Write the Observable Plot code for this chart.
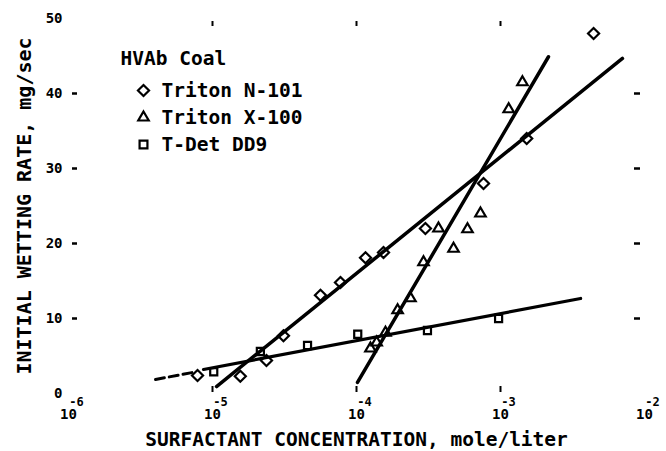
<!DOCTYPE html>
<html>
<head>
<meta charset="utf-8">
<script src="https://cdn.jsdelivr.net/npm/d3@7"></script>
<script src="https://cdn.jsdelivr.net/npm/@observablehq/plot@0.6"></script>
<style>
  html, body { margin: 0; padding: 0; background: #fff; }
</style>
</head>
<body>
<div id="chart"></div>
<script>
// ---- data ----
const xTicks = [1e-6, 1e-5, 1e-4, 1e-3, 1e-2];
const xTickExp = ["-6", "-5", "-4", "-3", "-2"];
const xMinorTicks = [1e-5, 1e-4, 1e-3];
const yTicks = [0, 10, 20, 30, 40, 50];
const yDashTicks = [10, 20, 30, 40];

const xTitle = "SURFACTANT CONCENTRATION, mole/liter";
const yTitle = "INITIAL WETTING RATE, mg/sec";
const legendTitle = "HVAb Coal";
const seriesNames = ["Triton N-101", "Triton X-100", "T-Det DD9"];
const seriesSymbols = ["diamond2", "triangle2", "square2"];

// Triton N-101 (diamonds)
const n101Conc = [7.87e-6, 1.56e-5, 2.37e-5, 3.11e-5, 5.62e-5, 7.74e-5, 1.155e-4, 1.54e-4, 3.01e-4, 7.62e-4, 1.52e-3, 4.43e-3];
const n101Rate = [2.4, 2.3, 4.4, 7.7, 13.1, 14.8, 18.1, 18.8, 22.0, 28.0, 34.0, 48.0];
// Triton X-100 (triangles)
const x100Conc = [1.25e-4, 1.38e-4, 1.59e-4, 1.93e-4, 2.37e-4, 2.92e-4, 3.71e-4, 4.72e-4, 5.9e-4, 7.26e-4, 1.14e-3, 1.42e-3];
const x100Rate = [6.0, 6.8, 8.1, 11.1, 12.7, 17.5, 22.0, 19.3, 21.9, 24.0, 37.9, 41.5];
// T-Det (squares)
const tdetConc = [1.02e-5, 2.15e-5, 4.57e-5, 1.02e-4, 3.11e-4, 9.7e-4];
const tdetRate = [2.9, 5.6, 6.4, 7.9, 8.4, 10.0];

// fitted lines (end points)
const n101FitConc = [1.066e-5, 7.03e-3];
const n101FitRate = [0.93, 44.67];
const x100FitConc = [1.016e-4, 2.154e-3];
const x100FitRate = [1.47, 44.9];
const tdetFitConc = [8.66e-6, 3.6e-3];
const tdetFitRate = [3.2, 12.67];
const tdetExtConc = [4.02e-6, 7.26e-6];
const tdetExtRate = [1.87, 2.8];

// ---- build ----
const rows = (xs, ys) => xs.map((x, i) => ({x, y: ys[i]}));
const FONT = "'DejaVu Sans Mono', 'Liberation Mono', monospace";

const legendMarks = [];
seriesNames.forEach((name, i) => {
  legendMarks.push(Plot.dot([0], {frameAnchor: "top-left", dx: 75, dy: 72 + 27 * i,
    symbol: seriesSymbols[i], r: 5, stroke: "black", strokeWidth: 2.2, fill: "none"}));
  legendMarks.push(Plot.text([name], {frameAnchor: "top-left", dx: 93, dy: 72 + 27 * i,
    text: d => d, textAnchor: "start", lineAnchor: "middle", fontSize: 19.5, fill: "black"}));
});

const chart = Plot.plot({
  width: 666,
  height: 451,
  marginLeft: 68,
  marginRight: 22,
  marginTop: 18,
  marginBottom: 58,
  style: {fontFamily: FONT, fontWeight: "bold", background: "#fff", color: "black"},
  x: {type: "log", domain: [1e-6, 1e-2]},
  y: {domain: [0, 50]},
  marks: [
    // y tick labels
    Plot.axisY(yTicks, {anchor: "left", tickSize: 0, tickPadding: 6, fontSize: 14, label: null}),
    // inner dash ticks left / right
    Plot.axisY(yDashTicks, {anchor: "left", tickSize: 5, dx: 9, strokeWidth: 2.5, tickFormat: () => "", label: null}),
    Plot.axisY(yDashTicks, {anchor: "right", tickSize: 6, dx: -11, strokeWidth: 2.5, tickFormat: () => "", label: null}),
    // x ticks top / bottom
    Plot.axisX(xMinorTicks, {anchor: "top", tickSize: 5, dy: 7, strokeWidth: 2, tickFormat: () => "", label: null}),
    Plot.axisX(xMinorTicks, {anchor: "bottom", tickSize: 6, dy: -7, strokeWidth: 2, tickFormat: () => "", label: null}),
    // x tick labels 10^n
    Plot.axisX(xTicks, {anchor: "bottom", tickSize: 0, tickPadding: 16, fontSize: 14, tickFormat: () => "10", label: null}),
    Plot.axisX(xTicks, {anchor: "bottom", tickSize: 0, tickPadding: 4, dx: 8, fontSize: 12,
      tickFormat: d => xTickExp[xTicks.indexOf(d)], label: null}),
    // titles
    Plot.text([xTitle], {frameAnchor: "bottom", dy: 46, text: d => d, textAnchor: "middle", lineAnchor: "middle", fontSize: 19.5, fill: "black"}),
    Plot.text([yTitle], {frameAnchor: "left", dx: -44, rotate: -90, text: d => d, textAnchor: "middle", lineAnchor: "middle", fontSize: 20, fill: "black"}),
    // fitted lines
    Plot.line(rows(tdetExtConc, tdetExtRate), {x: "x", y: "y", stroke: "black", strokeWidth: 3, strokeDasharray: "9,5"}),
    Plot.line(rows(tdetFitConc, tdetFitRate), {x: "x", y: "y", stroke: "black", strokeWidth: 3.2}),
    Plot.line(rows(n101FitConc, n101FitRate), {x: "x", y: "y", stroke: "black", strokeWidth: 3.5}),
    Plot.line(rows(x100FitConc, x100FitRate), {x: "x", y: "y", stroke: "black", strokeWidth: 3.5}),
    // data points
    Plot.dot(rows(n101Conc, n101Rate), {x: "x", y: "y", symbol: "diamond2", r: 5, stroke: "black", strokeWidth: 2.2, fill: "none"}),
    Plot.dot(rows(x100Conc, x100Rate), {x: "x", y: "y", symbol: "triangle2", r: 5, stroke: "black", strokeWidth: 2.2, fill: "none"}),
    Plot.dot(rows(tdetConc, tdetRate), {x: "x", y: "y", symbol: "square2", r: 4.5, stroke: "black", strokeWidth: 2.2, fill: "none"}),
    // legend
    Plot.text([legendTitle], {frameAnchor: "top-left", dx: 52, dy: 40, text: d => d, textAnchor: "start", lineAnchor: "middle", fontSize: 19.5, fill: "black"}),
    ...legendMarks
  ]
});
document.getElementById("chart").appendChild(chart);
</script>
</body>
</html>
